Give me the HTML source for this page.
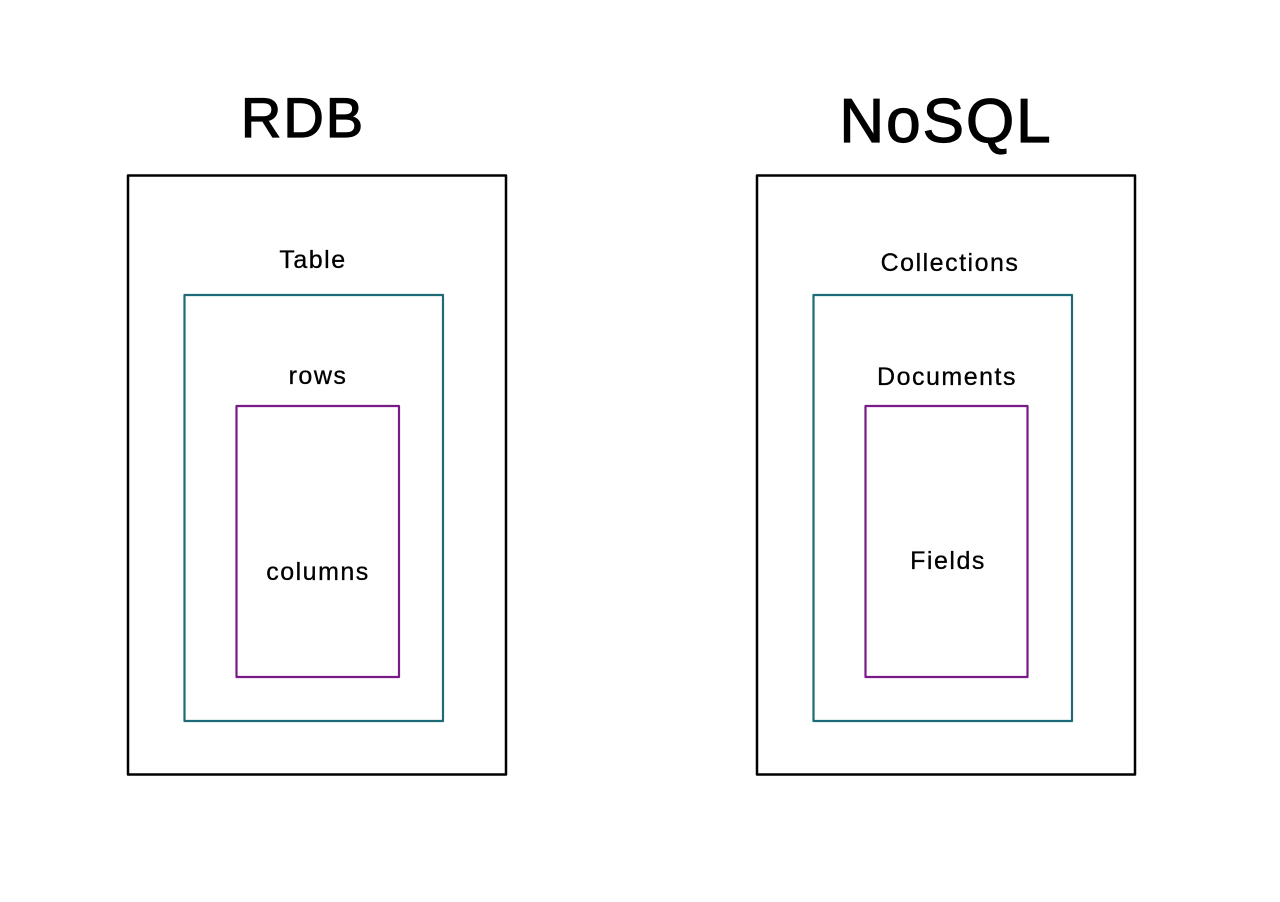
<!DOCTYPE html>
<html><head><meta charset="utf-8"><style>
html,body{margin:0;padding:0;background:#fff;}
</style></head><body>
<svg width="1280" height="902" viewBox="0 0 1280 902" xmlns="http://www.w3.org/2000/svg" style="display:block">
<rect width="1280" height="902" fill="#fff"/>
<g fill="none" stroke-linejoin="round">
<rect x="128" y="175.5" width="378" height="599" stroke="#000" stroke-width="2.5"/>
<rect x="184.5" y="295" width="258.5" height="426" stroke="#1e6b77" stroke-width="2.2"/>
<rect x="236.5" y="406" width="162.5" height="271" stroke="#7a1a88" stroke-width="2.2"/>
<rect x="757" y="175.5" width="378" height="599" stroke="#000" stroke-width="2.5"/>
<rect x="813.5" y="295" width="258.5" height="426" stroke="#1e6b77" stroke-width="2.2"/>
<rect x="865.5" y="406" width="162" height="271" stroke="#7a1a88" stroke-width="2.2"/>
</g>
<g font-family="Liberation Sans, sans-serif" fill="#000" text-anchor="middle" stroke="#000" stroke-width="1.2">
<text x="303" y="137" font-size="56" letter-spacing="2">RDB</text>
<text x="946" y="142" font-size="62" letter-spacing="2">NoSQL</text>
</g>
<g font-family="Liberation Sans, sans-serif" fill="#000" text-anchor="middle" font-size="25" letter-spacing="1.5" stroke="#000" stroke-width="0.3">
<text x="313" y="268">Table</text>
<text x="318" y="384">rows</text>
<text x="318" y="580">columns</text>
<text x="950" y="271">Collections</text>
<text x="947" y="385">Documents</text>
<text x="948" y="569">Fields</text>
</g>
</svg>
</body></html>
